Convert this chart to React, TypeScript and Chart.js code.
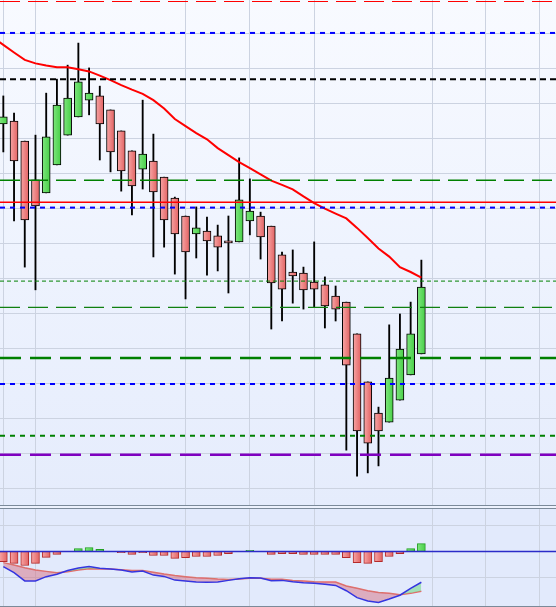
import React, { useEffect, useRef } from "react";
import { Chart, registerables } from "chart.js";

Chart.register(...registerables);

// ---- price candles (index 0..39) ----
const opens = [1104.1, 1104.9, 1099.2, 1088.1, 1084.4, 1092.4, 1100.9, 1106.1, 1110.9, 1112.1, 1108.1, 1102.1, 1096.4, 1091.2, 1093.5, 1088.9, 1082.9, 1077.8, 1072.7, 1073.5, 1072.1, 1070.7, 1070.4, 1076.4, 1077.8, 1074.9, 1066.7, 1061.8, 1061.5, 1058.9, 1058.1, 1054.9, 1053.2, 1044.1, 1030.4, 1021.5, 1018.9, 1025.2, 1032.4, 1038.4];
const highs = [1112.1, 1107.2, 1099.2, 1100.9, 1112.9, 1116.9, 1120.9, 1127.2, 1120.1, 1114.9, 1108.1, 1102.1, 1096.4, 1110.9, 1101.2, 1088.9, 1083.2, 1077.8, 1080.4, 1077.5, 1075.2, 1077.8, 1094.4, 1088.4, 1078.9, 1074.9, 1067.5, 1068.1, 1063.2, 1070.4, 1060.4, 1057.8, 1053.2, 1044.1, 1030.4, 1023.2, 1046.7, 1049.8, 1053.2, 1065.2];
const lows = [1096.1, 1076.4, 1063.2, 1056.7, 1084.4, 1092.4, 1100.9, 1106.1, 1106.7, 1093.8, 1090.4, 1084.9, 1078.1, 1085.5, 1066.1, 1068.9, 1061.2, 1054.1, 1065.8, 1060.9, 1062.1, 1055.8, 1070.4, 1072.4, 1065.5, 1045.5, 1047.8, 1052.9, 1051.2, 1051.8, 1045.8, 1047.8, 1010.9, 1003.5, 1004.4, 1006.4, 1018.9, 1025.2, 1032.4, 1038.4];
const closes = [1106.1, 1093.5, 1076.7, 1080.7, 1100.4, 1109.5, 1111.5, 1116.1, 1112.9, 1104.1, 1096.1, 1090.7, 1086.4, 1095.5, 1084.7, 1076.7, 1072.7, 1067.5, 1074.4, 1070.7, 1068.9, 1070.1, 1082.4, 1079.2, 1071.8, 1058.7, 1056.9, 1060.7, 1056.7, 1056.9, 1052.1, 1051.2, 1035.2, 1016.4, 1012.9, 1016.4, 1031.5, 1039.8, 1044.1, 1057.5];

// moving average, starting one period before the first visible candle
const maStart = -1;
const movingAvg = [1128.9, 1126.7, 1124.5, 1122.4, 1121.4, 1120.8, 1120.3, 1120.3, 1119.7, 1119.1, 1117.9, 1116.6, 1115.2, 1113.9, 1112.7, 1110.9, 1108.5, 1105.5, 1103.5, 1101.5, 1099.7, 1097.2, 1095.2, 1093.2, 1091.5, 1089.7, 1087.9, 1086.7, 1085.4, 1083.4, 1081.5, 1079.9, 1078.5, 1077.1, 1074.4, 1071.5, 1068.5, 1066.2, 1063.2, 1061.8, 1060.2];

// horizontal price levels
const levels = [1139.08, 1130.1, 1116.9, 1088.0, 1081.7, 1080.2, 1059.2, 1051.7, 1037.2, 1029.8, 1015.0, 1009.6];

// oscillator panel
const macdLine = [-0.57, -0.80, -1.11, -1.11, -0.95, -0.86, -0.72, -0.62, -0.57, -0.63, -0.66, -0.70, -0.77, -0.74, -0.89, -0.94, -1.08, -1.11, -1.15, -1.16, -1.15, -1.09, -1.03, -0.99, -1.00, -1.10, -1.09, -1.14, -1.18, -1.20, -1.24, -1.28, -1.48, -1.74, -1.87, -1.92, -1.79, -1.65, -1.39, -1.16];
const signalLine = [-0.42, -0.51, -0.61, -0.70, -0.75, -0.80, -0.76, -0.70, -0.65, -0.66, -0.66, -0.69, -0.72, -0.72, -0.78, -0.85, -0.91, -0.95, -0.99, -1.01, -1.04, -1.06, -1.04, -1.01, -1.01, -1.05, -1.05, -1.09, -1.11, -1.14, -1.15, -1.15, -1.30, -1.39, -1.48, -1.55, -1.58, -1.63, -1.58, -1.50];
const histogram = [-0.38, -0.45, -0.53, -0.45, -0.22, -0.11, 0, 0.11, 0.15, 0.08, 0, -0.04, -0.11, -0.04, -0.15, -0.15, -0.26, -0.23, -0.19, -0.19, -0.15, -0.08, 0, 0.04, 0, -0.11, -0.08, -0.08, -0.11, -0.11, -0.11, -0.11, -0.23, -0.42, -0.45, -0.38, -0.19, -0.08, 0.11, 0.30];

// grid ticks
const timeGrid = [0, 3, 17, 23, 29, 40, 45, 50];
const priceGrid = [1000, 1010, 1020, 1030, 1040, 1050, 1060, 1070, 1080, 1090, 1100, 1110, 1120, 1130];
const oscGrid = [-1, 1];

// view ranges
const X_MIN = -0.31;
const X_MAX = 51.56;
const PRICE_MIN = 995.23;
const PRICE_MAX = 1139.51;
const OSC_MIN = -2.057;
const OSC_MAX = 1.604;

// styles for the level lines (same order as levels)
const levelStyles = [
  { color: "#ff0000", width: 1.2, dash: [20, 8] },
  { color: "#0000ff", width: 2, dash: [5, 5] },
  { color: "#000000", width: 2, dash: [6, 4] },
  { color: "#008000", width: 1.5, dash: [20, 8] },
  { color: "#ff0000", width: 1.5, dash: [] },
  { color: "#0000ff", width: 2, dash: [5, 5] },
  { color: "#008000", width: 1, dash: [4, 3] },
  { color: "#108010", width: 1.2, dash: [20, 8] },
  { color: "#008000", width: 2.5, dash: [21, 9] },
  { color: "#0000ff", width: 2, dash: [5, 5] },
  { color: "#008000", width: 2, dash: [5, 5] },
  { color: "#7f00c0", width: 2.5, dash: [21, 9] },
];

const GRID = "#ccd3e1";

function gradFill(c: any, up: boolean, half: number) {
  const chart = c.chart;
  const xs = chart.scales && chart.scales.x;
  if (!xs || !chart.chartArea) return up ? "#5ad85a" : "#ee7b7b";
  const px = xs.getPixelForValue(c.dataIndex);
  const g = chart.ctx.createLinearGradient(px - half, 0, px + half, 0);
  if (up) {
    g.addColorStop(0, "#7ee67e");
    g.addColorStop(1, "#47cf47");
  } else {
    g.addColorStop(0, "#f7a6a6");
    g.addColorStop(1, "#e26262");
  }
  return g;
}

function xScale() {
  return {
    type: "linear" as const,
    min: X_MIN,
    max: X_MAX,
    offset: false,
    grid: { color: GRID, lineWidth: 1, drawTicks: false, offset: false },
    border: { display: false },
    ticks: { display: false },
    afterBuildTicks: (s: any) => {
      s.ticks = timeGrid.map((v) => ({ value: v }));
    },
    afterFit: (s: any) => {
      s.height = 0;
    },
  };
}

function yScale(min: number, max: number, grid: number[]) {
  return {
    type: "linear" as const,
    min,
    max,
    beginAtZero: false,
    grid: { color: GRID, lineWidth: 1, drawTicks: false },
    border: { display: false },
    ticks: { display: false },
    afterBuildTicks: (s: any) => {
      s.ticks = grid.map((v) => ({ value: v }));
    },
    afterFit: (s: any) => {
      s.width = 0;
    },
  };
}

const baseOptions = {
  animation: false as const,
  responsive: false,
  maintainAspectRatio: false,
  events: [] as any[],
  layout: { padding: 0 },
  plugins: { legend: { display: false }, tooltip: { enabled: false } },
};

export default function App() {
  const mainRef = useRef<HTMLCanvasElement | null>(null);
  const subRef = useRef<HTMLCanvasElement | null>(null);

  useEffect(() => {
    document.body.style.margin = "0";
    if (!mainRef.current || !subRef.current) return;

    const idx = opens.map((_, i) => i);

    const levelSets = levels.map((v, k) => ({
      type: "line" as const,
      data: [
        { x: X_MIN, y: v },
        { x: X_MAX, y: v },
      ],
      borderColor: levelStyles[k].color,
      borderWidth: levelStyles[k].width,
      borderDash: levelStyles[k].dash,
      pointRadius: 0,
      fill: false,
      clip: 4,
      order: 1,
    }));

    const main = new Chart(mainRef.current, {
      type: "bar",
      data: {
        datasets: [
          ...levelSets,
          {
            type: "line" as const,
            data: movingAvg.map((v, k) => ({ x: k + maStart, y: v })),
            borderColor: "#ff0000",
            borderWidth: 2,
            pointRadius: 0,
            tension: 0,
            fill: false,
            order: 2,
          },
          {
            type: "bar" as const,
            data: idx.map((i) => ({ x: i, y: [opens[i], closes[i]] })),
            backgroundColor: (c: any) =>
              gradFill(c, closes[c.dataIndex] >= opens[c.dataIndex], 4),
            borderColor: "#000000",
            borderWidth: 1,
            borderSkipped: false,
            barThickness: 8,
            grouped: false,
            order: 3,
          },
          {
            type: "bar" as const,
            data: idx.map((i) => ({ x: i, y: [lows[i], highs[i]] })),
            backgroundColor: "#000000",
            borderWidth: 0,
            barThickness: 1.2,
            grouped: false,
            order: 4,
          },
        ] as any,
      },
      options: {
        ...baseOptions,
        scales: {
          x: xScale(),
          y: yScale(PRICE_MIN, PRICE_MAX, priceGrid),
        },
      } as any,
    });

    const sub = new Chart(subRef.current, {
      type: "bar",
      data: {
        datasets: [
          {
            type: "line" as const,
            data: idx.map((i) => ({ x: i, y: macdLine[i] })),
            borderColor: "#3535e0",
            borderWidth: 1.5,
            pointRadius: 0,
            tension: 0,
            fill: {
              target: 1,
              above: "rgba(110, 215, 130, 0.55)",
              below: "rgba(212, 100, 118, 0.45)",
            },
            order: 2,
          },
          {
            type: "line" as const,
            data: idx.map((i) => ({ x: i, y: signalLine[i] })),
            borderColor: "#e86a6a",
            borderWidth: 1.5,
            pointRadius: 0,
            tension: 0,
            fill: false,
            order: 2,
          },
          {
            type: "line" as const,
            data: [
              { x: X_MIN, y: 0 },
              { x: X_MAX, y: 0 },
            ],
            borderColor: "#2b2bc8",
            borderWidth: 1.5,
            pointRadius: 0,
            fill: false,
            order: 1,
          },
          {
            type: "bar" as const,
            data: idx.map((i) => ({ x: i, y: histogram[i] })),
            backgroundColor: (c: any) => gradFill(c, histogram[c.dataIndex] >= 0, 4),
            borderColor: (c: any) =>
              histogram[c.dataIndex] >= 0 ? "#23a023" : "#b42a2a",
            borderWidth: (c: any) => (histogram[c.dataIndex] === 0 ? 0 : 1),
            borderSkipped: false,
            barThickness: 8,
            grouped: false,
            order: 3,
          },
        ] as any,
      },
      options: {
        ...baseOptions,
        scales: {
          x: xScale(),
          y: yScale(OSC_MIN, OSC_MAX, oscGrid),
        },
      } as any,
    });

    return () => {
      main.destroy();
      sub.destroy();
    };
  }, []);

  const sep = { height: 1, background: "#7b8a99" };
  return (
    <div style={{ width: 556, height: 607, background: "#e6edfc", overflow: "hidden" }}>
      <canvas
        ref={mainRef}
        width={556}
        height={505}
        style={{
          display: "block",
          width: 556,
          height: 505,
          background: "linear-gradient(to bottom, #f8faff 0%, #eef3fe 50%, #e5ecfc 100%)",
        }}
      />
      <div style={sep} />
      <div style={{ height: 2, background: "#edf2fd" }} />
      <div style={sep} />
      <canvas
        ref={subRef}
        width={556}
        height={97}
        style={{ display: "block", width: 556, height: 97, background: "#e2eafc" }}
      />
      <div style={sep} />
    </div>
  );
}
